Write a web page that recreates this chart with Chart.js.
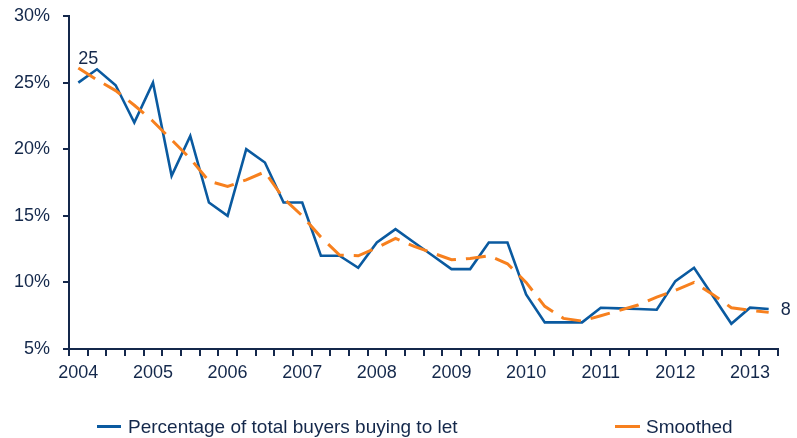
<!DOCTYPE html>
<html>
<head>
<meta charset="utf-8">
<script src="https://cdn.jsdelivr.net/npm/chart.js@4.4.0/dist/chart.umd.min.js"></script>
<style>
  body { margin: 0; background: #fff; }
  #wrap { position: relative; width: 797px; height: 438px; }
  .leg { position: absolute; top: 416px; font: 19px "Liberation Sans", Arial, sans-serif; color: #14284b; line-height: 22px; white-space: nowrap; }
  .leg span { display: inline-block; vertical-align: middle; height: 3px; margin-top: -3px; }
</style>
</head>
<body>
<div id="wrap">
  <canvas id="chart" width="797" height="438"></canvas>
  <div class="leg" style="left:97px"><span style="width:24px;background:#0a5aa0;margin-right:7px"></span>Percentage of total buyers buying to let</div>
  <div class="leg" style="left:615px"><span style="width:25px;background:#f7801e;margin-right:6px"></span>Smoothed</div>
</div>
<script>
var years = ["2004", "2005", "2006", "2007", "2008", "2009", "2010", "2011", "2012", "2013"];
var quarterNames = ["Q1", "Q2", "Q3", "Q4"];
var yTicks = [5, 10, 15, 20, 25, 30];

// percentage of buyers buying to let, quarterly 2004 Q1 - 2013 Q2
var buyToLet = [25, 26, 24.8, 22, 25, 18, 21, 16, 15, 20, 19, 16, 16, 12, 12, 11.1, 13, 14, 13, 12,
    11, 11, 13, 13, 9.1, 7, 7, 7, 8.1, 8.05, 8, 7.95, 10.1, 11.1, 9, 6.9, 8.1, 8];
var smoothed = [26.1, 25.2, 24.4, 23.3, 22.1, 20.7, 19.3, 17.6, 17.2, 17.7, 18.3, 16.3, 15.0, 13.4, 12.05, 12.0, 12.6, 13.3, 12.7, 12.2,
    11.7, 11.8, 12.0, 11.4, 10.0, 8.2, 7.3, 7.1, 7.5, 7.9, 8.3, 8.9, 9.4, 10.0, 9.1, 8.1, 7.9, 7.75];

var quarters = [];
years.forEach(function (y) {
    quarterNames.forEach(function (q) {
        if (quarters.length < buyToLet.length) quarters.push(y + " " + q);
    });
});

var navy = "#14284b";
var font = { family: "'Liberation Sans', Arial, sans-serif", size: 18 };

// end labels: "25" over first point, "8" right of last point
var endLabels = {
    id: "endLabels",
    afterDatasetsDraw: function (chart) {
        var ctx = chart.ctx;
        var pts = chart.getDatasetMeta(0).data;
        var first = pts[0], last = pts[pts.length - 1];
        ctx.save();
        ctx.fillStyle = navy;
        ctx.font = "18px " + font.family;
        ctx.textAlign = "left";
        ctx.textBaseline = "alphabetic";
        ctx.fillText(Math.round(buyToLet[0]), first.x, first.y - 19);
        ctx.textBaseline = "middle";
        ctx.fillText(Math.round(buyToLet[buyToLet.length - 1]), last.x + 12, last.y + 1);
        ctx.restore();
    }
};

var chart = new Chart(document.getElementById("chart"), {
    type: "line",
    data: {
        labels: quarters,
        datasets: [
            {
                label: "Percentage of total buyers buying to let",
                data: buyToLet,
                borderColor: "#0a5aa0",
                borderWidth: 2.6,
                pointRadius: 0,
                tension: 0,
                fill: false,
                order: 1
            },
            {
                label: "Smoothed",
                data: smoothed,
                borderColor: "#f7801e",
                borderWidth: 3,
                borderDash: [20, 10],
                pointRadius: 0,
                tension: 0,
                fill: false,
                order: 0
            }
        ]
    },
    options: {
        responsive: false,
        animation: false,
        layout: { padding: { top: 16, right: 19, bottom: 39, left: 0 } },
        plugins: {
            legend: { display: false },
            tooltip: { enabled: false }
        },
        scales: {
            x: {
                offset: true,
                grid: {
                    offset: true,
                    drawOnChartArea: false,
                    drawTicks: true,
                    tickLength: 7,
                    color: navy,
                    lineWidth: 2
                },
                border: { color: navy, width: 2 },
                ticks: {
                    autoSkip: false,
                    maxRotation: 0,
                    color: navy,
                    font: font,
                    padding: 6,
                    callback: function (v, i) {
                        var q = quarters[i];
                        return q.slice(5) === "Q1" ? q.slice(0, 4) : "";
                    }
                },
                afterFit: function (scale) { scale.height = 50; }
            },
            y: {
                min: 5,
                max: 30,
                grid: {
                    drawOnChartArea: false,
                    drawTicks: true,
                    tickLength: 6,
                    color: navy,
                    lineWidth: 2
                },
                border: { color: navy, width: 2 },
                afterBuildTicks: function (scale) {
                    scale.ticks = yTicks.map(function (v) { return { value: v }; });
                },
                ticks: {
                    color: navy,
                    font: font,
                    padding: 13,
                    callback: function (v) { return v + "%"; }
                },
                afterFit: function (scale) {
                    scale.width = 69;
                    scale.paddingTop = 0;
                    scale.paddingBottom = 0;
                }
            }
        }
    },
    plugins: [endLabels]
});
</script>
</body>
</html>
